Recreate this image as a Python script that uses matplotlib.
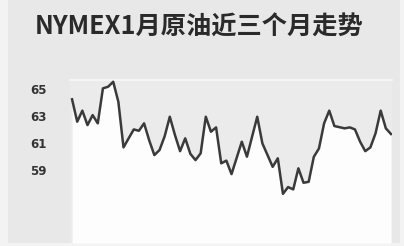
import matplotlib
matplotlib.use("Agg")
import matplotlib.pyplot as plt
from matplotlib.patches import Rectangle

# NYMEX 1月原油, last ~3 months (trading day index, price)
days = [0, 1, 2, 3, 4, 5, 6, 7, 8, 9, 10, 11, 12, 13, 14, 15, 16, 17, 18, 19,
        20, 21, 22, 23, 24, 25, 26, 27, 28, 29, 30, 31, 33, 34, 36, 37, 39, 40,
        41, 42, 43, 44, 45, 46, 47, 48, 49, 50, 51, 53, 54, 55, 56, 57, 58, 59,
        60, 61, 62]
prices = [64.24, 62.58, 63.40, 62.33, 63.07, 62.46, 65.05, 65.17, 65.54, 64.06,
          60.68, 61.35, 62.01, 61.91, 62.46, 61.20, 60.11, 60.48, 61.50, 62.95,
          61.60, 60.40, 61.35, 60.20, 59.74, 60.24, 62.95, 61.84, 62.16, 59.50,
          59.70, 58.70, 61.10, 59.99, 62.95, 60.98, 59.24, 59.87, 57.24, 57.74,
          57.57, 59.13, 58.06, 58.13, 59.98, 60.60, 62.46, 63.40, 62.26, 62.09,
          62.16, 62.01, 61.10, 60.40, 60.68, 61.72, 63.40, 62.09, 61.67]
y_ticks = [59, 61, 63, 65]
title = "NYMEX1月原油近三个月走势"

fig = plt.figure(figsize=(4.04, 2.46), dpi=100)
fig.patch.set_facecolor("#f3f3f3")
# gray card behind everything
fig.patches.append(Rectangle((8 / 404, 3 / 246), 392 / 404, 243 / 246,
                             transform=fig.transFigure, facecolor="#e8e8e8",
                             edgecolor="none", zorder=-5))

ax = fig.add_axes([70 / 404, 3 / 246, 322 / 404, 163 / 246])
ax.set_zorder(2)
ax.set_facecolor("#ebebeb")
ymin, ymax = 53.6, 65.67
ax.fill_between(days, prices, ymin, color="#fdfdfd", lw=0, zorder=1)
ax.plot(days, prices, color="#3a3a3a", lw=1.8, zorder=3)
ax.set_xlim(-0.4, 62.2)
ax.set_ylim(ymin, ymax)

ax.set_xticks([])
ax.set_yticks(y_ticks)
ax.set_yticklabels([str(v) for v in y_ticks])
ax.tick_params(axis="y", length=0, pad=17, labelsize=8.5, labelcolor="#333333")
for lab in ax.get_yticklabels():
    lab.set_fontweight("bold")
for side in ["left", "right", "bottom"]:
    ax.spines[side].set_visible(False)
ax.spines["top"].set_color("#f8f8f8")
ax.spines["top"].set_linewidth(1.2)

fig.text(35 / 404, 1 - 27.5 / 246, title, ha="left", va="center",
         fontsize=18.2, fontweight="bold", color="#2a2a2a",
         family=["Noto Sans CJK SC", "DejaVu Sans"])

fig.savefig("out.png", dpi=100, facecolor=fig.get_facecolor())
